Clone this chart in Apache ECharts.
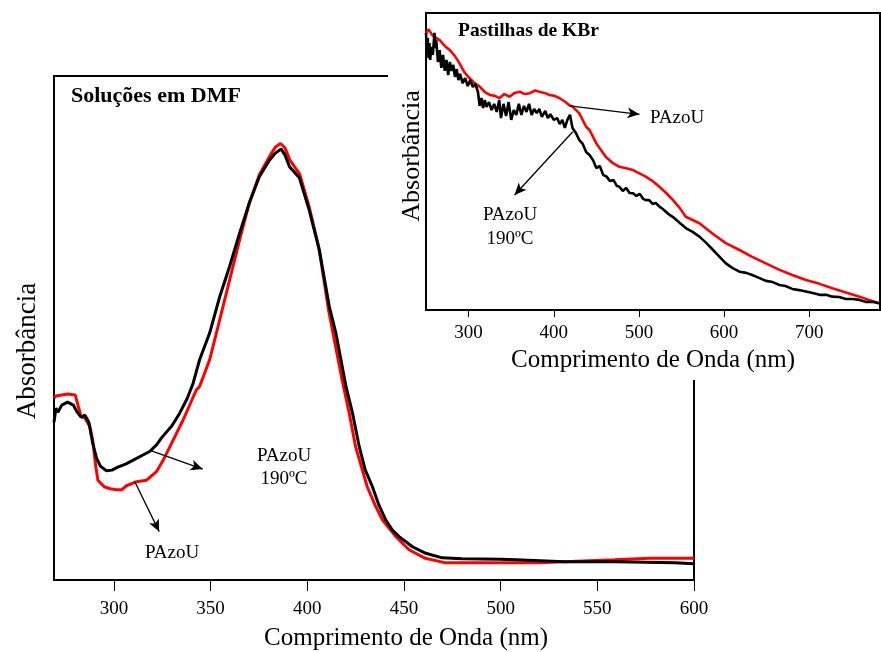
<!DOCTYPE html>
<html><head><meta charset="utf-8">
<script src="https://cdn.jsdelivr.net/npm/echarts@6/dist/echarts.min.js"></script>
<style>html,body{margin:0;padding:0;background:#fff}#c{width:881px;height:652px}</style>
</head><body><div id="c"></div>
<script>
// ---- Main chart (Soluções em DMF) ----
const mainTicks = [300, 350, 400, 450, 500, 550, 600];
const mainBlack = [[269,31.3],[270,34.1],[271,33.3],[273,34.7],[276,35.3],[279,34.7],[281,33.3],[283,32.3],[285,32.7],[287,31.3],[289,27.2],[291,24.2],[293,22.6],[296,21.7],[299,21.8],[302,22.4],[306,23.0],[310,23.8],[314,24.6],[318.5,25.5],[322,26.8],[325,28.4],[330,30.6],[334,33.1],[338,36.1],[341,39.1],[344.3,43.7],[349.5,49.0],[354.7,56.2],[359.8,62.2],[365,68.8],[370,74.8],[375.2,80.0],[380.4,83.3],[383.5,84.7],[386.5,85.5],[388.5,84.3],[390.8,82.0],[395.9,79.8],[401,73.4],[406.2,65.5],[411.4,54.2],[414.8,49.0],[420,38.4],[423.4,33.1],[426.9,26.4],[430,21.8],[433.7,18.5],[437,14.9],[440.6,11.9],[444,9.9],[447.5,8.6],[454.4,6.6],[461.3,5.3],[469.8,4.4],[480,4.2],[500,4.1],[508,4.0],[533,3.6],[560,3.6],[590,3.4],[600,3.2]];
const mainRed = [[269,36.1],[270,36.5],[273,36.7],[276,36.9],[280,36.7],[283,32.4],[285,32.1],[287.6,30.4],[289,27.8],[290.5,22.8],[291.7,19.8],[295,18.5],[298,18.1],[301.4,17.9],[304,17.9],[306.5,18.7],[311.7,19.5],[316.9,19.8],[322,21.5],[325.5,23.8],[328.9,26.4],[335.7,31.7],[342.6,37.7],[344.3,38.4],[349.5,43.7],[354.7,51.6],[359.8,59.5],[365,67.5],[370,74.8],[375.2,80.4],[380.4,84.0],[383.5,85.9],[386.2,86.6],[388.5,85.7],[391,83.3],[396,80.6],[401,74.0],[406,65.9],[411,53.6],[414,47.6],[418,39.7],[421.7,33.1],[425,26.4],[431,18.5],[435,14.9],[438.9,11.9],[445.8,8.6],[452.6,6.0],[461,4.3],[471.5,3.4],[490,3.4],[520,3.4],[533,3.6],[559,4.0],[577,4.3],[600,4.3]];
const mainArrows = [[[319.4,25.6],[345.9,22.0]],[[310.8,19.5],[323.4,9.6]]];

// ---- Inset chart (Pastilhas de KBr) ----
const insetTicks = [300, 400, 500, 600, 700];
const insetRed = [[250,93.2],[253,94.5],[258,92.3],[266,90.9],[272,88.9],[278,87.5],[284,85.5],[289,83.2],[295,80.1],[301,78.1],[307,76.4],[313,75.2],[319,73.4],[325,72.4],[331,72.1],[336,71.3],[342,72.7],[348,71.8],[354,73.1],[360,73.5],[366,72.7],[372,73.0],[378,73.9],[383,73.5],[389,73.1],[395,72.4],[401,72.1],[407,71.3],[413,70.2],[418,69.0],[422,68.5],[430,66.2],[438,61.7],[442,60.6],[450,56.1],[461,51.6],[469,49.5],[477,48.2],[485,47.7],[493,47.1],[500,46.1],[508,44.9],[516,43.4],[524,41.5],[532,39.4],[540,37.0],[548,34.3],[555,31.4],[563,30.3],[571,29.2],[587,25.6],[602,22.5],[618,20.2],[633,17.9],[649,15.7],[665,13.5],[680,11.8],[696,10.1],[712,8.8],[727,7.3],[743,5.9],[759,4.5],[770,3.4],[782,2.3]];
const insetBlack = [[250,93.3],[251,87.5],[252,91.6],[253,84.8],[254,89.9],[255,84.2],[256,88.6],[258,85.9],[260,93.3],[261,88.2],[262,90.9],[264,83.5],[266,87.5],[268,81.5],[270,85.9],[272,80.5],[274,84.2],[276,79.1],[278,83.5],[280,80.5],[282,82.5],[284,78.5],[286,81.1],[288,77.4],[290,79.5],[293,76.4],[296,78.1],[299,75.4],[302,77.4],[305,75.1],[308,76.1],[311,73.4],[313,68.7],[315,71.4],[317,68.0],[319,70.7],[321,68.4],[324,70.0],[327,67.3],[330,69.4],[333,66.7],[336,70.7],[338,64.6],[341,69.4],[344,65.3],[347,70.0],[350,64.0],[353,67.3],[356,65.7],[359,69.4],[362,65.7],[365,68.7],[368,66.7],[371,69.4],[374,65.7],[377,67.7],[380,66.3],[383,67.7],[386,65.0],[390,67.0],[393,64.6],[396,65.9],[400,64.0],[404,64.6],[407,62.6],[410,64.0],[413,61.3],[416,64.0],[419,65.7],[422,61.3],[426,59.6],[430,57.2],[434,55.9],[438,53.2],[442,52.2],[446,50.5],[450,47.8],[454,48.5],[458,45.5],[462,44.9],[466,43.4],[470,43.8],[474,41.8],[477,41.5],[481,40.1],[485,41.1],[489,39.4],[493,39.3],[497,38.4],[501,39.1],[505,37.4],[508,37.0],[512,37.0],[516,35.7],[520,36.0],[524,34.8],[528,34.0],[532,33.0],[536,32.0],[540,31.3],[548,29.3],[555,27.6],[563,26.3],[571,24.7],[579,22.6],[587,20.2],[595,17.8],[602,15.7],[610,14.1],[618,12.9],[626,12.5],[633,11.8],[641,10.8],[649,9.8],[657,9.4],[665,8.4],[672,8.1],[680,7.1],[688,6.7],[696,6.2],[704,5.7],[712,5.1],[720,5.1],[727,4.5],[735,4.4],[743,3.7],[751,3.7],[759,3.4],[767,2.7],[775,2.7],[782,2.3]];
const insetArrows = [[[418.5,68.7],[500.6,65.9]],[[422.3,60.0],[354,38.7]]];

const SERIF = '"Liberation Serif","Times New Roman",serif';
const chart = echarts.init(document.getElementById('c'), null, {renderer:'canvas'});

function arrowLines(arr){
  return arr.map(a => [{coord:a[0]},{coord:a[1]}]);
}
function markArrows(arr){
  return {silent:true, animation:false, z:35, symbol:['none','arrow'], symbolSize:[8,12],
    label:{show:false}, lineStyle:{color:'#000', width:1.3, type:'solid'},
    emphasis:{disabled:true}, data:arrowLines(arr)};
}

const option = {
  animation:false,
  backgroundColor:'#fff',
  grid:[
    {left:54, top:76, right:187, bottom:72, show:true, borderColor:'#000', borderWidth:2, z:0},
    {left:426, top:13, right:1, bottom:342, show:true, borderColor:'#000', borderWidth:2, backgroundColor:'#fff', z:20}
  ],
  xAxis:[
    {gridIndex:0, type:'value', min:269, max:600,
     axisLine:{show:true, lineStyle:{color:'#000', width:2}},
     axisTick:{show:true, inside:false, length:11, customValues:mainTicks, lineStyle:{color:'#000', width:1}},
     axisLabel:{customValues:mainTicks, margin:20, color:'#000', fontFamily:SERIF, fontSize:19},
     splitLine:{show:false}},
    {gridIndex:1, type:'value', min:250, max:783, z:20,
     axisLine:{show:true, lineStyle:{color:'#000', width:2}},
     axisTick:{show:true, inside:false, length:7, customValues:insetTicks, lineStyle:{color:'#000', width:1}},
     axisLabel:{customValues:insetTicks, margin:14, color:'#000', fontFamily:SERIF, fontSize:19},
     splitLine:{show:false}}
  ],
  yAxis:[
    {gridIndex:0, type:'value', min:0, max:100,
     axisLine:{show:true, lineStyle:{color:'#000', width:2}},
     axisTick:{show:false}, axisLabel:{show:false}, splitLine:{show:false}},
    {gridIndex:1, type:'value', min:0, max:100, z:20,
     axisLine:{show:true, lineStyle:{color:'#000', width:2}},
     axisTick:{show:false}, axisLabel:{show:false}, splitLine:{show:false}}
  ],
  series:[
    {type:'line', xAxisIndex:0, yAxisIndex:0, data:mainRed, showSymbol:false, z:2,
     lineStyle:{color:'#ff0000', width:3}, itemStyle:{color:'#ff0000'}},
    {type:'line', xAxisIndex:0, yAxisIndex:0, data:mainBlack, showSymbol:false, z:3,
     lineStyle:{color:'#000', width:3}, itemStyle:{color:'#000'}, markLine:markArrows(mainArrows)},
    {type:'line', xAxisIndex:1, yAxisIndex:1, data:insetRed, showSymbol:false, z:22,
     lineStyle:{color:'#ff0000', width:2.6}, itemStyle:{color:'#ff0000'}},
    {type:'line', xAxisIndex:1, yAxisIndex:1, data:insetBlack, showSymbol:false, z:23,
     lineStyle:{color:'#000', width:2.6}, itemStyle:{color:'#000'}, markLine:markArrows(insetArrows)}
  ],
  graphic:[
    {type:'rect', z:10, silent:true, shape:{x:388, y:0, width:493, height:380}, style:{fill:'#fff'}},
    {type:'text', z:40, left:71, top:85, style:{text:'Soluções em DMF', font:'bold 22px '+SERIF, fill:'#000'}},
    {type:'text', z:40, left:458, top:21, style:{text:'Pastilhas de KBr', font:'bold 19.5px '+SERIF, fill:'#000'}},
    {type:'text', z:40, x:406, y:638, style:{text:'Comprimento de Onda (nm)', font:'25px '+SERIF, fill:'#000', align:'center', verticalAlign:'middle'}},
    {type:'text', z:40, x:653, y:360, style:{text:'Comprimento de Onda (nm)', font:'25px '+SERIF, fill:'#000', align:'center', verticalAlign:'middle'}},
    {type:'text', z:40, x:28, y:351, rotation:Math.PI/2, style:{text:'Absorbância', font:'27px '+SERIF, fill:'#000', align:'center', verticalAlign:'middle'}},
    {type:'text', z:40, x:412, y:156, rotation:Math.PI/2, style:{text:'Absorbância', font:'26px '+SERIF, fill:'#000', align:'center', verticalAlign:'middle'}},
    {type:'text', z:40, x:284, y:468, style:{text:'PAzoU\n190ºC', font:'19px '+SERIF, fill:'#000', align:'center', verticalAlign:'middle', lineHeight:23}},
    {type:'text', z:40, x:172, y:553, style:{text:'PAzoU', font:'19px '+SERIF, fill:'#000', align:'center', verticalAlign:'middle'}},
    {type:'text', z:40, x:677, y:118, style:{text:'PAzoU', font:'19px '+SERIF, fill:'#000', align:'center', verticalAlign:'middle'}},
    {type:'text', z:40, x:510, y:227, style:{text:'PAzoU\n190ºC', font:'19px '+SERIF, fill:'#000', align:'center', verticalAlign:'middle', lineHeight:24}}
  ]
};
chart.setOption(option);
</script></body></html>
